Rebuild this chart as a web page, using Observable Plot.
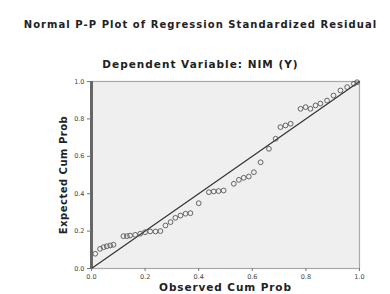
<!DOCTYPE html>
<html>
<head>
<meta charset="utf-8">
<script src="https://cdn.jsdelivr.net/npm/d3@7"></script>
<script src="https://cdn.jsdelivr.net/npm/@observablehq/plot@0.6"></script>
<style>
  html, body { margin: 0; padding: 0; background: #fff; }
  #chart { width: 390px; height: 294px; }
</style>
</head>
<body>
<div id="chart"></div>
<script>
const titleText = "Normal P-P Plot of Regression Standardized Residual";
const subtitleText = "Dependent Variable: NIM (Y)";
const xLabel = "Observed Cum Prob";
const yLabel = "Expected Cum Prob";
const tickValues = [0, 0.2, 0.4, 0.6, 0.8, 1.0];
const diagonal = [0, 1];

const observed = [0.014, 0.032, 0.045, 0.057, 0.070, 0.082, 0.119, 0.132, 0.144, 0.163, 0.182, 0.200, 0.219, 0.239, 0.257,
  0.276, 0.295, 0.313, 0.332, 0.351, 0.369, 0.400, 0.438, 0.456, 0.474, 0.493, 0.531, 0.550, 0.568, 0.587, 0.606,
  0.631, 0.662, 0.687, 0.705, 0.724, 0.743, 0.780, 0.799, 0.817, 0.836, 0.854, 0.879, 0.903, 0.929, 0.954, 0.979, 0.991];
const expected = [0.079, 0.105, 0.114, 0.119, 0.123, 0.127, 0.173, 0.173, 0.176, 0.180, 0.186, 0.194, 0.198, 0.198, 0.200,
  0.230, 0.248, 0.271, 0.283, 0.293, 0.296, 0.349, 0.408, 0.412, 0.414, 0.417, 0.453, 0.474, 0.485, 0.492, 0.515,
  0.568, 0.640, 0.694, 0.756, 0.765, 0.774, 0.854, 0.863, 0.854, 0.872, 0.882, 0.898, 0.925, 0.952, 0.970, 0.988, 0.996];

const points = observed.map((o, i) => ({obs: o, exp: expected[i]}));
const font = "'DejaVu Sans', 'Liberation Sans', Arial, sans-serif";

const chart = Plot.plot({
  width: 390,
  height: 294,
  marginLeft: 91,
  marginRight: 31,
  marginTop: 81,
  marginBottom: 26,
  style: {fontFamily: font, background: "#fff", color: "#222"},
  x: {domain: [0, 1]},
  y: {domain: [0, 1]},
  marks: [
    Plot.frame({fill: "#efefef", stroke: "#a8a8a8", strokeWidth: 1.2}),
    Plot.ruleX([0], {stroke: "#666", strokeWidth: 3}),
    Plot.line(diagonal, {x: d => d, y: d => d, stroke: "#333", strokeWidth: 1.2}),
    Plot.dot(points, {x: "obs", y: "exp", r: 2.4, stroke: "#555", strokeWidth: 0.9, fill: "none"}),
    Plot.axisX({ticks: tickValues, tickFormat: d3.format(".1f"), tickSize: 3, tickPadding: 3, fontSize: 6.5, label: null, stroke: "#777", fill: "#444"}),
    Plot.axisY({ticks: tickValues, tickFormat: d3.format(".1f"), tickSize: 4, tickPadding: 3, fontSize: 6.5, label: null, stroke: "#777", fill: "#444"}),
    Plot.text([titleText], {frameAnchor: "top-left", dx: 109, dy: -61, text: d => d, fontSize: 10, fontWeight: "bold", textAnchor: "middle", fill: "#222"}),
    Plot.text([subtitleText], {frameAnchor: "top-left", dx: 109, dy: -21, text: d => d, fontSize: 10.5, fontWeight: "bold", textAnchor: "middle", fill: "#222"}),
    Plot.text([xLabel], {frameAnchor: "bottom", dy: 22, text: d => d, fontSize: 10.5, fontWeight: "bold", textAnchor: "middle", fill: "#222"}),
    Plot.text([yLabel], {frameAnchor: "left", dx: -28, rotate: -90, text: d => d, fontSize: 10, fontWeight: "bold", textAnchor: "middle", fill: "#222"})
  ]
});
const spacing = new Map([[titleText, 1.05], [subtitleText, 1.0], [xLabel, 0.9], [yLabel, 0.5]]);
d3.select(chart).selectAll("text").each(function () {
  const s = spacing.get(this.textContent);
  if (s != null) this.setAttribute("letter-spacing", s);
});
document.getElementById("chart").appendChild(chart);
</script>
</body>
</html>
